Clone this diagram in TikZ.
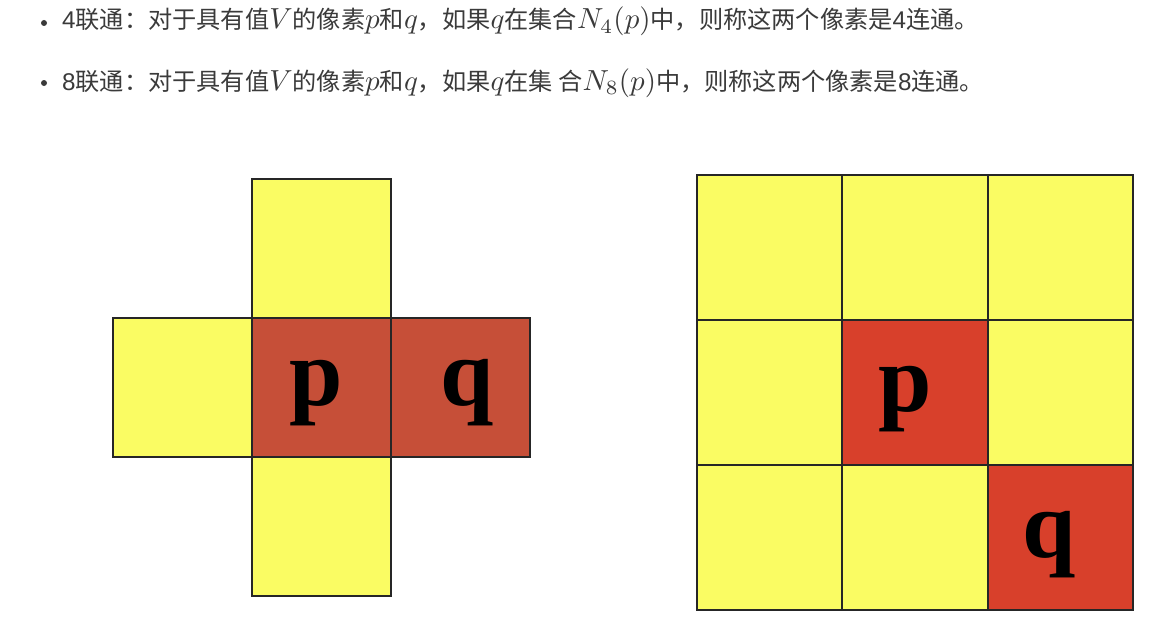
\documentclass[tikz,border=0pt]{standalone}
\usepackage{graphicx}
\usepackage{fontspec}
\setmainfont{Liberation Sans}
\newfontfamily\cjk{Noto Sans CJK SC}
\newfontfamily\tms{Liberation Serif}
\definecolor{cellyellow}{HTML}{FAFC63}
\definecolor{redA}{HTML}{C64F38}
\definecolor{redB}{HTML}{D8402B}
\definecolor{txtgray}{HTML}{3A3A3A}
\newcommand\mth[1]{\scalebox{2.9}{\fontsize{10}{12}\selectfont$#1$}}
\begin{document}
\begin{tikzpicture}[x=1pt,y=-1pt,
  cell/.style={draw=black!85,line width=1.3pt},
  lbl/.style={font=\tms\bfseries\fontsize{96}{96}\selectfont,inner sep=0pt},
  line/.style={anchor=base west,inner sep=0pt,font=\fontsize{24.2}{28}\selectfont,text=txtgray},
  dot/.style={circle,fill=txtgray,inner sep=0pt,minimum size=6pt}]
\useasboundingbox (0,0) rectangle (1174,642);
% text lines
\node[dot] (b1) at (44,23) {};
\node[line] (t1) at (62,29) {4{\cjk 联通：对于具有值}\mth{V}{\cjk 的像素}\mth{p}{\cjk 和}\mth{q}{\cjk ，如果}\mth{q}{\cjk 在集合}\mth{N_4(p)}{\cjk 中，则称这两个像素是}4{\cjk 连通。}};
\node[dot] (b2) at (44,83) {};
\node[line] (t2) at (62,90) {8{\cjk 联通：对于具有值}\mth{V}{\cjk 的像素}\mth{p}{\cjk 和}\mth{q}{\cjk ，如果}\mth{q}{\cjk 在集 合}\mth{N_8(p)}{\cjk 中，则称这两个像素是}8{\cjk 连通。}};
% left: 4-neighbourhood
\fill[cellyellow] (252,179) rectangle (391,318);
\fill[cellyellow] (113,318) rectangle (252,457);
\fill[cellyellow] (252,457) rectangle (391,596);
\fill[redA] (252,318) rectangle (530,457);
\draw[cell] (252,179) rectangle (391,318);
\draw[cell] (113,318) rectangle (252,457);
\draw[cell] (252,457) rectangle (391,596);
\draw[cell] (252,318) rectangle (391,457);
\draw[cell] (391,318) rectangle (530,457);
\node[lbl] (p1) at (316,393) {p};
\node[lbl] (q1) at (467,393) {q};
% right: 8-neighbourhood
\fill[cellyellow] (697,175) rectangle (1133,610);
\fill[redB] (842,320) rectangle (988,465);
\fill[redB] (988,465) rectangle (1133,610);
\draw[cell] (842,175) -- (842,610) (988,175) -- (988,610)
            (697,320) -- (1133,320) (697,465) -- (1133,465);
\draw[cell] (697,175) rectangle (1133,610);
\node[lbl] (p2) at (905,399) {p};
\node[lbl] (q2) at (1049,545) {q};
\end{tikzpicture}
\end{document}
